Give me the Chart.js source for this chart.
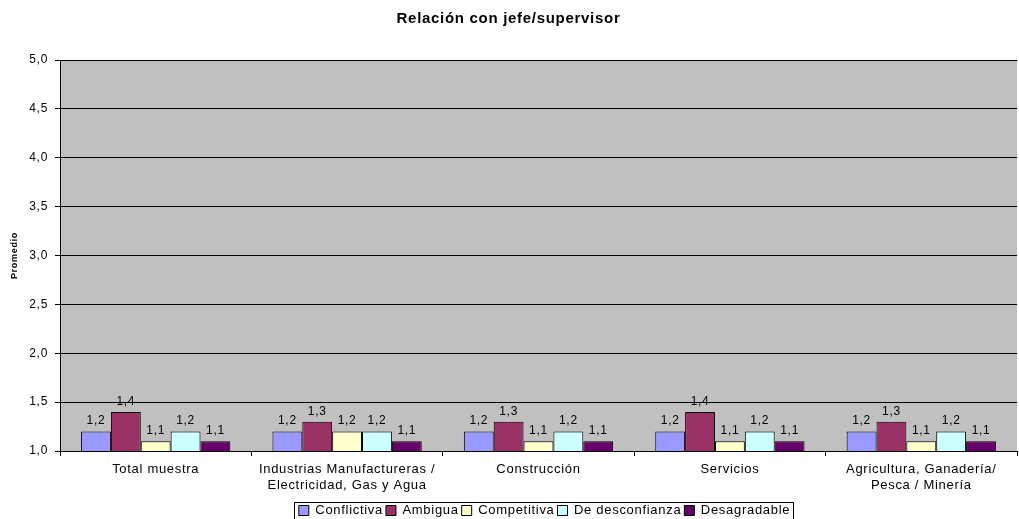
<!DOCTYPE html>
<html>
<head>
<meta charset="utf-8">
<script src="https://cdn.jsdelivr.net/npm/chart.js@4"></script>
<style>
  html, body { margin: 0; padding: 0; background: #fff; }
  #wrap { width: 1019px; height: 519px; }
</style>
</head>
<body>
<div id="wrap"><canvas id="chart"></canvas></div>
<script>
const categories = [
    'Total muestra',
    ['Industrias Manufactureras /', 'Electricidad, Gas y Agua'],
    'Construcción',
    'Servicios',
    ['Agricultura, Ganadería/', 'Pesca / Minería']
];
const seriesNames = ['Conflictiva', 'Ambigua', 'Competitiva', 'De desconfianza', 'Desagradable'];
const conflictiva = [1.2, 1.2, 1.2, 1.2, 1.2];
const ambigua = [1.4, 1.3, 1.3, 1.4, 1.3];
const competitiva = [1.1, 1.2, 1.1, 1.1, 1.1];
const desconfianza = [1.2, 1.2, 1.2, 1.2, 1.2];
const desagradable = [1.1, 1.1, 1.1, 1.1, 1.1];
const yTicks = [1.0, 1.5, 2.0, 2.5, 3.0, 3.5, 4.0, 4.5, 5.0];

const colors = ['#9999FF', '#993366', '#FFFFCC', '#CCFFFF', '#660066'];
const allSeries = [conflictiva, ambigua, competitiva, desconfianza, desagradable];

const FONT = 'Arial, "Liberation Sans", sans-serif';
const fmt = v => v.toFixed(1).replace('.', ',');
const LEGEND_SHIFT = 36;

// the original text is a bit stretched horizontally
const SPACING = '0.7px';
const spacing = {
    id: 'spacing',
    beforeUpdate(chart) { chart.ctx.letterSpacing = SPACING; },
    beforeLayout(chart) { chart.ctx.letterSpacing = SPACING; },
    beforeDraw(chart) { chart.ctx.letterSpacing = SPACING; }
};

// legend sits a little right of centre in the original, inside a thin box
const legendShift = {
    id: 'legendShift',
    afterLayout(chart) {
        chart.legend.left += LEGEND_SHIFT;
        chart.legend.right += LEGEND_SHIFT;
    },
    afterDraw(chart) {
        const boxes = chart.legend.legendHitBoxes;
        if (!boxes || !boxes.length) return;
        const first = boxes[0], last = boxes[boxes.length - 1];
        const ctx = chart.ctx;
        ctx.save();
        ctx.strokeStyle = '#000';
        ctx.lineWidth = 1;
        const x0 = Math.round(first.left) - 4.5;
        const x1 = Math.round(last.left + last.width) + 3.5;
        const y0 = Math.round(first.top) - 1.5;
        const y1 = Math.round(first.top + first.height) + 2.5;
        ctx.strokeRect(x0, y0, x1 - x0, y1 - y0);
        ctx.restore();
    }
};

// value labels above each bar
const valueLabels = {
    id: 'valueLabels',
    afterDatasetsDraw(chart) {
        const ctx = chart.ctx;
        ctx.save();
        ctx.font = '12px ' + FONT;
        ctx.fillStyle = '#000';
        ctx.textAlign = 'center';
        ctx.textBaseline = 'alphabetic';
        chart.data.datasets.forEach((ds, i) => {
            chart.getDatasetMeta(i).data.forEach((bar, j) => {
                ctx.fillText(fmt(ds.data[j]), bar.x, bar.y - 7);
            });
        });
        ctx.restore();
    }
};

// gray plot background
const plotBg = {
    id: 'plotBg',
    beforeDraw(chart) {
        const a = chart.chartArea;
        chart.ctx.save();
        chart.ctx.fillStyle = '#C0C0C0';
        chart.ctx.fillRect(a.left, a.top, a.right - a.left, a.bottom - a.top);
        chart.ctx.restore();
    }
};

new Chart(document.getElementById('chart'), {
    type: 'bar',
    data: {
        labels: categories,
        datasets: allSeries.map((d, i) => ({
            label: seriesNames[i],
            data: d,
            backgroundColor: colors[i],
            borderColor: '#000',
            borderWidth: 1,
            categoryPercentage: 0.78,
            barPercentage: 1.0
        }))
    },
    options: {
        responsive: true,
        maintainAspectRatio: false,
        animation: false,
        layout: { padding: { left: 0, right: 2, top: 4, bottom: -8 } },
        plugins: {
            title: {
                display: true,
                text: 'Relación con jefe/supervisor',
                color: '#000',
                font: { family: FONT, size: 15, weight: 'bold' },
                padding: { top: 6, bottom: 32 }
            },
            legend: {
                position: 'bottom',
                labels: {
                    color: '#000',
                    font: { family: FONT, size: 13 },
                    boxWidth: 10,
                    boxHeight: 10,
                    padding: 3,
                    generateLabels(chart) {
                        return chart.data.datasets.map((ds, i) => ({
                            text: ds.label,
                            fillStyle: ds.backgroundColor,
                            strokeStyle: '#000',
                            lineWidth: 1,
                            datasetIndex: i
                        }));
                    }
                }
            },
            tooltip: { enabled: false }
        },
        scales: {
            x: {
                offset: true,
                grid: {
                    offset: true,
                    drawOnChartArea: false,
                    color: '#000',
                    tickLength: 5
                },
                border: { color: '#000' },
                ticks: {
                    color: '#000',
                    font: { family: FONT, size: 13 },
                    maxRotation: 0,
                    autoSkip: false,
                    padding: 6
                },
                afterFit(scale) { scale.height = 50; }
            },
            y: {
                min: 1,
                max: 5,
                afterBuildTicks(scale) {
                    scale.ticks = yTicks.map(v => ({ value: v }));
                },
                grid: {
                    color: '#000',
                    tickLength: 5
                },
                border: { color: '#000' },
                ticks: {
                    color: '#000',
                    font: { family: FONT, size: 12 },
                    padding: 7,
                    callback: v => fmt(v)
                },
                title: {
                    display: true,
                    text: 'Promedio',
                    color: '#000',
                    font: { family: FONT, size: 9, weight: 'bold' },
                    padding: { top: 9, bottom: 8 }
                },
                afterFit(scale) { scale.width = 60; }
            }
        }
    },
    plugins: [spacing, legendShift, plotBg, valueLabels]
});
</script>
</body>
</html>
